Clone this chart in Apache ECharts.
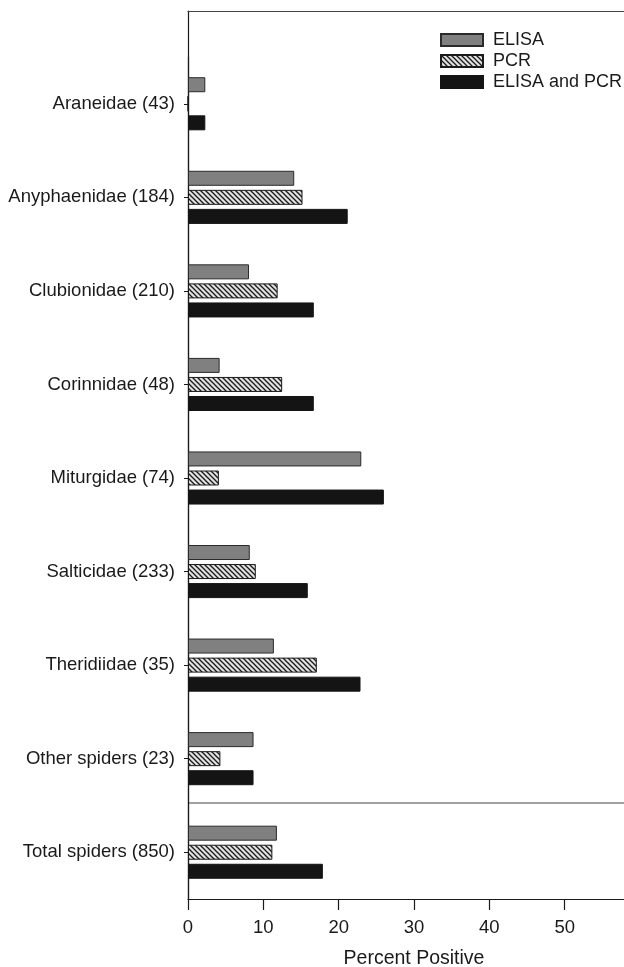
<!DOCTYPE html>
<html>
<head>
<meta charset="utf-8">
<script src="https://cdn.jsdelivr.net/npm/echarts@6/dist/echarts.min.js"></script>
<style>
  html, body { margin: 0; padding: 0; background: #fff; }
  #chart { width: 624px; height: 967px; }
</style>
</head>
<body>
<div id="chart"></div>
<script>
// Spider families (sample size in brackets), top to bottom
const families = [
  'Araneidae (43)', 'Anyphaenidae (184)', 'Clubionidae (210)', 'Corinnidae (48)',
  'Miturgidae (74)', 'Salticidae (233)', 'Theridiidae (35)', 'Other spiders (23)',
  'Total spiders (850)'
];
const seriesNames = ['ELISA', 'PCR', 'ELISA and PCR'];
// Percent of spiders testing positive
const elisaPct   = [2.3, 14.1, 8.1, 4.2, 23.0, 8.2, 11.4, 8.7, 11.8];
const pcrPct     = [0, 15.2, 11.9, 12.5, 4.1, 9.0, 17.1, 4.3, 11.2];
const bothPct    = [2.3, 21.2, 16.7, 16.7, 26.0, 15.9, 22.9, 8.7, 17.9];
const xTicks = [0, 10, 20, 30, 40, 50, 60];

// Diagonal hatch fill for the PCR bars
function hatchPattern() {
  const s = 5;
  const c = document.createElement('canvas');
  c.width = s; c.height = s;
  const g = c.getContext('2d');
  g.fillStyle = '#e2e2e2';
  g.fillRect(0, 0, s, s);
  g.strokeStyle = '#1a1a1a';
  g.lineWidth = 1.3;
  for (const o of [-s, 0, s]) {
    g.beginPath();
    g.moveTo(o - 1, -1);
    g.lineTo(o + s + 1, s + 1);
    g.stroke();
  }
  return { image: c, repeat: 'repeat' };
}

const font = 'Liberation Sans, Arial, Helvetica, sans-serif';
const labelSize = 18.5;
const chart = echarts.init(document.getElementById('chart'), null, { renderer: 'canvas' });

const barCommon = {
  type: 'bar',
  xAxisIndex: 0,
  yAxisIndex: 0,
  barWidth: 15,
  barGap: '27%',
  animation: false
};

chart.setOption({
  animation: false,
  textStyle: { fontFamily: font },
  grid: [
    // bars
    { left: 188, right: -16, top: 57, bottom: 68, containLabel: false, outerBoundsMode: 'none' },
    // frame (top and left rules)
    { left: 188, right: -16, top: 11, bottom: 68, containLabel: false, outerBoundsMode: 'none' }
  ],
  legend: {
    orient: 'vertical',
    left: 440,
    top: 31,
    padding: 0,
    itemWidth: 42,
    itemHeight: 12,
    itemGap: 3,
    icon: 'rect',
    selectedMode: false,
    data: seriesNames,
    textStyle: { fontSize: 18, lineHeight: 18, color: '#1a1a1a', fontFamily: font, padding: [0, 0, 0, 5] }
  },
  xAxis: [
    {
      type: 'value',
      gridIndex: 0,
      min: xTicks[0],
      max: xTicks[xTicks.length - 1],
      interval: 10,
      name: 'Percent Positive',
      nameLocation: 'middle',
      nameGap: 50,
      nameTextStyle: { fontSize: 19.5, color: '#1a1a1a', fontFamily: font },
      axisLine: { show: true, lineStyle: { color: '#1a1a1a', width: 1.2 } },
      axisTick: { show: true, length: 11, lineStyle: { color: '#1a1a1a', width: 1.2 } },
      axisLabel: { fontSize: labelSize, color: '#1a1a1a', margin: 19, fontFamily: font },
      splitLine: { show: false }
    },
    {
      type: 'value',
      gridIndex: 1,
      position: 'top',
      min: 0, max: 60,
      axisLine: { show: true, onZero: false, lineStyle: { color: '#444', width: 1.2 } },
      axisTick: { show: false },
      axisLabel: { show: false },
      splitLine: { show: false }
    }
  ],
  yAxis: [
    {
      type: 'category',
      gridIndex: 0,
      inverse: true,
      data: families,
      axisLine: { show: true, lineStyle: { color: '#1a1a1a', width: 1.2 } },
      axisTick: { show: true, alignWithLabel: true, length: 4, lineStyle: { color: '#1a1a1a' } },
      axisLabel: { fontSize: labelSize, color: '#1a1a1a', margin: 13, fontFamily: font },
      splitLine: { show: false }
    },
    {
      type: 'value',
      gridIndex: 1,
      min: 0, max: 1,
      axisLine: { show: true, onZero: false, lineStyle: { color: '#1a1a1a', width: 1.2 } },
      axisTick: { show: false },
      axisLabel: { show: false },
      splitLine: { show: false }
    }
  ],
  series: [
    Object.assign({}, barCommon, {
      name: seriesNames[0],
      data: elisaPct,
      itemStyle: { color: '#808080', borderColor: '#2a2a2a', borderWidth: 1 }
    }),
    Object.assign({}, barCommon, {
      name: seriesNames[1],
      data: pcrPct,
      itemStyle: { color: hatchPattern(), borderColor: '#1a1a1a', borderWidth: 1 }
    }),
    Object.assign({}, barCommon, {
      name: seriesNames[2],
      data: bothPct,
      itemStyle: { color: '#141414', borderColor: '#141414', borderWidth: 1 }
    })
  ]
});

// Rule separating the individual families from the overall total
const yOther = chart.convertToPixel({ yAxisIndex: 0 }, families[7]);
const yTotal = chart.convertToPixel({ yAxisIndex: 0 }, families[8]);
const ySep = Math.round((yOther + yTotal) / 2) - 2;
chart.setOption({
  graphic: [{
    type: 'line',
    shape: { x1: 188, y1: ySep, x2: 624, y2: ySep },
    style: { stroke: '#444', lineWidth: 1.2 },
    silent: true
  }]
});
</script>
</body>
</html>
